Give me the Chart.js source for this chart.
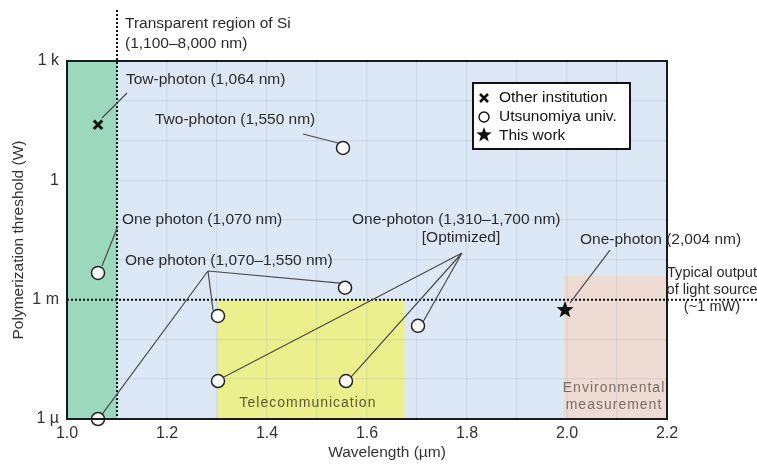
<!DOCTYPE html>
<html>
<head>
<meta charset="utf-8">
<script src="https://cdn.jsdelivr.net/npm/chart.js@4.4.0/dist/chart.umd.min.js"></script>
<style>
  html, body { margin: 0; padding: 0; background: #fff; }
  #wrap { width: 757px; height: 467px; }
</style>
</head>
<body>
<div id="wrap"><canvas id="chart"></canvas></div>
<script>
// wavelength (um) vs polymerization threshold (W)
const otherInstitution = [{ x: 1.062, y: 25 }];
const utsunomiya = [
  { x: 1.552, y: 6.5 },
  { x: 1.062, y: 4.7e-3 },
  { x: 1.062, y: 1e-6 },
  { x: 1.556, y: 2.0e-3 },
  { x: 1.302, y: 3.9e-4 },
  { x: 1.302, y: 9e-6 },
  { x: 1.558, y: 9e-6 },
  { x: 1.702, y: 2.2e-4 }
];
const thisWork = [{ x: 1.996, y: 5.5e-4 }];

const seriesNames = ['Other institution', 'Utsunomiya univ.', 'This work'];
const xTickLabels = ['1.0', '1.2', '1.4', '1.6', '1.8', '2.0', '2.2'];
const yTickValues = [1e-6, 1e-5, 1e-4, 1e-3, 1e-2, 1e-1, 1, 10, 100, 1000];
const yTickLabels = ['1 \u00b5', '', '', '1 m', '', '', '1', '', '', '1 k'];

// shaded bands, in um
const siBand = [1.0, 1.1];
const telecomBand = [1.3, 1.675];
const envBand = [1.993, 2.2];
const telecomTop = 1e-3;
const envTop = 4e-3;
const siEdge = 1.1;
const lightSourceLevel = 1e-3;

// annotation texts, anchored in data units
const notes = [
  { t: 'Transparent region of Si', x: 1.116, y: 8500, a: 'left' },
  { t: '(1,100\u20138,000 nm)', x: 1.116, y: 2680, a: 'left' },
  { t: 'Tow-photon (1,064 nm)', x: 1.118, y: 333, a: 'left' },
  { t: 'Two-photon (1,550 nm)', x: 1.176, y: 33, a: 'left' },
  { t: 'One photon (1,070 nm)', x: 1.110, y: 0.1, a: 'left' },
  { t: 'One photon (1,070\u20131,550 nm)', x: 1.116, y: 9.4e-3, a: 'left' },
  { t: 'One-photon (1,310\u20131,700 nm)', x: 1.570, y: 0.1, a: 'left' },
  { t: '[Optimized]', x: 1.788, y: 0.0356, a: 'center' },
  { t: 'One-photon (2,004 nm)', x: 2.026, y: 0.0316, a: 'left' }
];
const sourceNotes = [
  { t: 'Typical output', x: 2.29, y: 4.69e-3 },
  { t: 'of light source', x: 2.29, y: 1.75e-3 },
  { t: '(~1 mW)', x: 2.29, y: 6.55e-4 }
];
const bandNotes = [
  { t: 'Telecommunication', x: 1.482, y: 2.53e-6, c: '#5b5b2e' },
  { t: 'Environmental', x: 2.094, y: 6.0e-6, c: '#7a6e68' },
  { t: 'measurement', x: 2.094, y: 2.25e-6, c: '#7a6e68' }
];

// leader lines: from label to points
const leaders = [
  [[1.120, 157], [1.070, 36.9]],
  [[1.472, 14.6], [1.542, 8.7]],
  [[1.102, 0.0711], [1.070, 7.0e-3]],
  [[1.282, 5.26e-3], [1.546, 2.62e-3]],
  [[1.282, 5.26e-3], [1.292, 5.5e-4]],
  [[1.282, 5.26e-3], [1.066, 1.12e-6]],
  [[1.790, 0.0149], [1.310, 1.07e-5]],
  [[1.790, 0.0149], [1.566, 1.07e-5]],
  [[1.790, 0.0149], [1.712, 2.75e-4]],
  [[2.086, 0.0177], [2.006, 8.26e-4]]
];

// filled star marker
function makeStar(r) {
  const c = document.createElement('canvas');
  c.width = c.height = r * 2 + 2;
  const g = c.getContext('2d');
  g.fillStyle = '#111';
  g.beginPath();
  for (let i = 0; i < 10; i++) {
    const rr = i % 2 ? r * 0.42 : r;
    const ang = -Math.PI / 2 + i * Math.PI / 5;
    g.lineTo(r + 1 + rr * Math.cos(ang), r + 1 + rr * Math.sin(ang));
  }
  g.closePath();
  g.fill();
  return c;
}
const starImg = makeStar(9);
const starSmall = makeStar(8);

const FONT = '"Liberation Sans", Arial, sans-serif';
const TXT = '#2a2a2a';

function X(chart, v) { return chart.scales.x.getPixelForValue(v); }
function Y(chart, v) { return chart.scales.y.getPixelForValue(v); }

const decor = {
  id: 'decor',
  beforeDraw(chart) {
    const ctx = chart.ctx, a = chart.chartArea;
    ctx.save();
    ctx.fillStyle = '#dde8f6';
    ctx.fillRect(a.left, a.top, a.right - a.left, a.bottom - a.top);
    ctx.fillStyle = '#ebf08c';
    ctx.fillRect(X(chart, telecomBand[0]), Y(chart, telecomTop),
      X(chart, telecomBand[1]) - X(chart, telecomBand[0]), a.bottom - Y(chart, telecomTop));
    ctx.fillStyle = '#eedbd3';
    ctx.fillRect(X(chart, envBand[0]), Y(chart, envTop),
      X(chart, envBand[1]) - X(chart, envBand[0]), a.bottom - Y(chart, envTop));
    ctx.restore();
  },
  beforeDatasetsDraw(chart) {
    const ctx = chart.ctx, a = chart.chartArea;
    ctx.save();
    // Si band covers grid
    ctx.fillStyle = '#9bd8bd';
    ctx.fillRect(X(chart, siBand[0]), a.top, X(chart, siBand[1]) - X(chart, siBand[0]), a.bottom - a.top);

    // band labels
    ctx.textAlign = 'center';
    ctx.textBaseline = 'middle';
    ctx.font = '14px ' + FONT;
    ctx.letterSpacing = '1px';
    bandNotes.forEach(n => {
      ctx.fillStyle = n.c;
      ctx.fillText(n.t, X(chart, n.x), Y(chart, n.y));
    });
    ctx.letterSpacing = '0px';

    // dotted reference lines
    ctx.strokeStyle = '#111';
    ctx.lineWidth = 2;
    ctx.setLineDash([2, 2]);
    ctx.beginPath();
    ctx.moveTo(X(chart, siEdge), a.top - 51);
    ctx.lineTo(X(chart, siEdge), a.bottom);
    ctx.moveTo(a.left, Y(chart, lightSourceLevel));
    ctx.lineTo(chart.width, Y(chart, lightSourceLevel));
    ctx.stroke();
    ctx.setLineDash([]);

    // leaders
    ctx.strokeStyle = '#4a4a4a';
    ctx.lineWidth = 1.2;
    ctx.beginPath();
    leaders.forEach(l => {
      ctx.moveTo(X(chart, l[0][0]), Y(chart, l[0][1]));
      ctx.lineTo(X(chart, l[1][0]), Y(chart, l[1][1]));
    });
    ctx.stroke();
    ctx.restore();
  },
  afterDraw(chart) {
    const ctx = chart.ctx, a = chart.chartArea;
    ctx.save();
    // plot frame
    ctx.strokeStyle = '#1a1a1a';
    ctx.lineWidth = 2;
    ctx.strokeRect(a.left, a.top, a.right - a.left, a.bottom - a.top);

    // notes
    ctx.font = '15.5px ' + FONT;
    ctx.fillStyle = TXT;
    ctx.textBaseline = 'middle';
    notes.forEach(n => {
      ctx.textAlign = n.a;
      ctx.fillText(n.t, X(chart, n.x), Y(chart, n.y));
    });
    ctx.font = '14.6px ' + FONT;
    ctx.textAlign = 'center';
    sourceNotes.forEach(n => ctx.fillText(n.t, X(chart, n.x), Y(chart, n.y)));

    // x axis title, sits a little right of centre
    ctx.font = '15.5px ' + FONT;
    ctx.fillStyle = '#333';
    ctx.fillText('Wavelength (\u00b5m)', (a.left + a.right) / 2 + 20, 453);

    // legend box
    const bx = a.right - 194, by = a.top + 22, bw = 157, bh = 66;
    ctx.fillStyle = '#fff';
    ctx.fillRect(bx, by, bw, bh);
    ctx.strokeStyle = '#111';
    ctx.lineWidth = 2;
    ctx.strokeRect(bx, by, bw, bh);
    const rows = [by + 15, by + 34, by + 53];
    const sx = bx + 11;
    // cross
    ctx.lineWidth = 2.6;
    ctx.beginPath();
    ctx.moveTo(sx - 4, rows[0] - 4); ctx.lineTo(sx + 4, rows[0] + 4);
    ctx.moveTo(sx + 4, rows[0] - 4); ctx.lineTo(sx - 4, rows[0] + 4);
    ctx.stroke();
    // circle
    ctx.lineWidth = 1.4;
    ctx.beginPath();
    ctx.arc(sx, rows[1], 5, 0, Math.PI * 2);
    ctx.stroke();
    // star
    ctx.drawImage(starSmall, sx - starSmall.width / 2, rows[2] - starSmall.height / 2 - 1);
    ctx.fillStyle = '#111';
    ctx.textAlign = 'left';
    ctx.font = '15.5px ' + FONT;
    seriesNames.forEach((s, i) => ctx.fillText(s, bx + 26, rows[i]));
    ctx.restore();
  }
};

new Chart(document.getElementById('chart'), {
  type: 'scatter',
  data: {
    datasets: [
      {
        label: seriesNames[0], data: otherInstitution,
        pointStyle: 'crossRot', pointRadius: 6, borderWidth: 3,
        borderColor: '#111', backgroundColor: '#111', clip: false
      },
      {
        label: seriesNames[1], data: utsunomiya,
        pointStyle: 'circle', pointRadius: 6.5, borderWidth: 1.5,
        borderColor: '#222', backgroundColor: '#fff', clip: false
      },
      {
        label: seriesNames[2], data: thisWork,
        pointStyle: starImg, pointRadius: 9, clip: false
      }
    ]
  },
  options: {
    responsive: true,
    maintainAspectRatio: false,
    animation: false,
    layout: { padding: { left: 0, top: 61, right: 90, bottom: 0 } },
    plugins: { legend: { display: false }, tooltip: { enabled: false } },
    scales: {
      x: {
        type: 'linear', min: 1.0, max: 2.2,
        afterFit(s) { s.height = 48; },
        grid: { color: 'rgba(150,170,190,0.2)', drawTicks: false, lineWidth: 1.5 },
        border: { display: false },
        ticks: {
          stepSize: 0.1, padding: 5, color: '#333',
          font: { family: FONT, size: 16 },
          callback(v) {
            const k = Math.round(v * 10) - 10;
            return k % 2 === 0 ? xTickLabels[k / 2] : '';
          }
        }
      },
      y: {
        type: 'logarithmic', min: 1e-6, max: 1e3,
        afterFit(s) { s.width = 67; },
        afterBuildTicks(s) { s.ticks = yTickValues.map(v => ({ value: v })); },
        grid: { color: 'rgba(150,170,190,0.2)', drawTicks: false, lineWidth: 1.5 },
        border: { display: false },
        ticks: {
          padding: 8, color: '#333',
          font: { family: FONT, size: 16 },
          callback(v) {
            const i = yTickValues.findIndex(t => Math.abs(Math.log10(t) - Math.log10(v)) < 0.01);
            return i >= 0 ? yTickLabels[i] : '';
          }
        },
        title: {
          display: true, text: 'Polymerization threshold (W)', color: '#333',
          font: { family: FONT, size: 15.5 }, padding: { top: 9, bottom: 0 }
        }
      }
    }
  },
  plugins: [decor]
});
</script>
</body>
</html>
